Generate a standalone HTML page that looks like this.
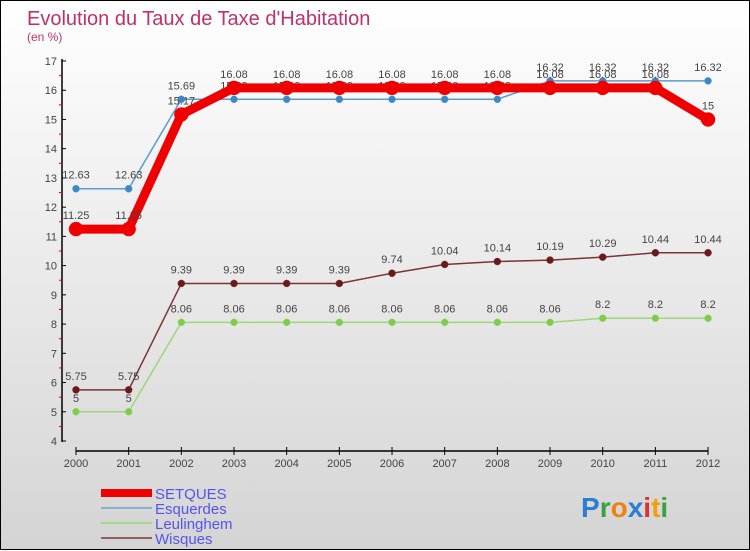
<!DOCTYPE html>
<html><head><meta charset="utf-8"><style>
body{margin:0}
#c{width:748px;height:548px;border:1px solid #000;background:linear-gradient(#fff,#d4d4d4);position:relative;font-family:"Liberation Sans",sans-serif}
svg{position:absolute;left:0;top:0}
</style></head><body>
<div id="c">
<svg id="s" width="750" height="550">
<text x="26" y="24" font-size="20" fill="#c0306a">Evolution du Taux de Taxe d'Habitation</text>
<text x="26" y="40" font-size="12" fill="#c0306a">(en %)</text>
</svg>
</div>
<script>
const years=[2000,2001,2002,2003,2004,2005,2006,2007,2008,2009,2010,2011,2012];
const setques=[11.25,11.25,15.17,16.08,16.08,16.08,16.08,16.08,16.08,16.08,16.08,16.08,15];
const esquerdes=[12.63,12.63,15.69,15.69,15.69,15.69,15.69,15.69,15.69,16.32,16.32,16.32,16.32];
const leulinghem=[5,5,8.06,8.06,8.06,8.06,8.06,8.06,8.06,8.06,8.2,8.2,8.2];
const wisques=[5.75,5.75,9.39,9.39,9.39,9.39,9.74,10.04,10.14,10.19,10.29,10.44,10.44];
const yTicks=[4,5,6,7,8,9,10,11,12,13,14,15,16,17];
const NS="http://www.w3.org/2000/svg",s=document.getElementById('s');
const X=i=>75+i*52.67, Y=v=>440-(v-4)*29.23;
function el(t,a){const e=document.createElementNS(NS,t);for(const k in a)e.setAttribute(k,a[k]);s.appendChild(e);return e;}
let e=el('line',{x1:61,y1:58,x2:61,y2:441,stroke:'#000','stroke-width':1.5});

e=el('line',{x1:75,y1:450,x2:707,y2:450,stroke:'#000','stroke-width':1.5});

yTicks.forEach(v=>{el('line',{x1:61,x2:65,y1:Y(v),y2:Y(v),stroke:'#000'});
 if(v<17)el('line',{x1:58,x2:61,y1:Y(v+0.5),y2:Y(v+0.5),stroke:'#e00'});
 const t=el('text',{x:56,y:Y(v)+4,'text-anchor':'end','font-size':11,fill:'#444'});t.textContent=v;
 });
years.forEach((yr,i)=>{el('line',{x1:X(i),x2:X(i),y1:446,y2:454,stroke:'#000'});
 const t=el('text',{x:X(i),y:466,'text-anchor':'middle','font-size':11,fill:'#444'});t.textContent=yr;
 });
function series(d,col,w,r,fill,name){
 const p=el('polyline',{points:d.map((v,i)=>X(i)+','+Y(v)).join(' '),fill:'none',stroke:col,'stroke-width':w});
 
 d.forEach((v,i)=>{const c=el('circle',{cx:X(i),cy:Y(v),r:r,fill:fill,stroke:col,'stroke-width':0.5});
  
  const t=el('text',{x:X(i),y:Y(v)-10,'text-anchor':'middle','font-size':11,fill:'#444'});t.textContent=v;
  });
}
series(leulinghem,'#9ed67a',1.5,3.5,'#7dcc4a','leulinghem');
series(wisques,'#7a3434',1.5,3.5,'#6a1a1a','wisques');
series(esquerdes,'#5a9bd0',1.5,3.5,'#3a88c8','esquerdes');
series(setques,'#ee0000',9,7,'#ee0000','setques');
const leg=[['SETQUES','#ee0000',8],['Esquerdes','#8ab0d0',2],['Leulinghem','#a0dc80',2],['Wisques','#906060',2]];
leg.forEach((l,i)=>{const y=492+i*15;
 const ln=el('line',{x1:100,x2:151,y1:y,y2:y,stroke:l[1],'stroke-width':l[2]});
 
 const t=el('text',{x:154,y:y+6,'font-size':15,fill:'#5555ee'});t.textContent=l[0];
 });
const logo=el('text',{x:580,y:516,'font-size':28,'font-weight':'bold'});

[['P','#2a7fd0'],['r','#3aa040'],['o','#f08010'],['x','#2a7fd0'],['i','#e03030'],['t','#f0a010'],['i','#3aa040']].forEach(c=>{const sp=document.createElementNS(NS,'tspan');sp.setAttribute('fill',c[1]);sp.textContent=c[0];logo.appendChild(sp);});
</script>
</body></html>
